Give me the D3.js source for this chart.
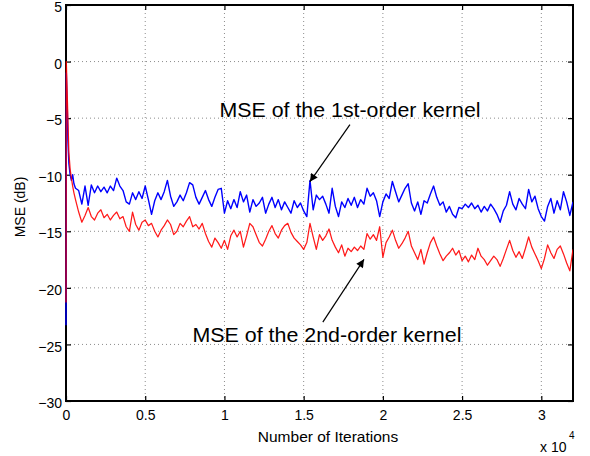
<!DOCTYPE html>
<html>
<head>
<meta charset="utf-8">
<script src="https://cdn.jsdelivr.net/npm/d3@7"></script>
<style>
body { margin: 0; background: #fff; }
text { font-family: 'Liberation Sans', Arial, sans-serif; fill: #000; }
</style>
</head>
<body>
<div class="mse-plot"></div>
<script>
// first few iterations (adaptation transient), explicit iteration numbers
const earlyIters = [0, 20, 40, 80, 120, 180, 260, 340, 420, 500];
const earlyBlue = [-23.3, -1.0, -2.0, -4.0, -7.0, -9.0, -10.0, -10.5, -10.0, -10.8];
const earlyRed = [-21.3, 0.0, -1.0, -3.0, -5.0, -8.0, -9.5, -10.3, -11.0, -11.6];

// after that one value every 200 iterations, starting at 600
const iterStart = 600;
const iterStep = 200;

// MSE of the 1st-order kernel (dB)
const blueMse = [
  -11.2, -11.4, -12.6, -11.0, -12.7, -10.9, -11.6, -11.0, -11.5, -11.1,
  -11.6, -11.0, -11.4, -10.3, -11.0, -11.4, -12.4, -12.6, -11.6, -12.2,
  -11.5, -12.1, -11.0, -12.2, -13.5, -12.3, -11.6, -12.2, -11.5, -10.5,
  -11.9, -12.8, -12.4, -11.8, -12.3, -11.6, -10.7, -10.9, -12.0, -12.6,
  -12.0, -11.4, -12.2, -12.8, -12.0, -11.3, -11.2, -13.4, -12.3, -13.0,
  -12.2, -12.9, -11.5, -12.4, -11.8, -13.3, -12.2, -12.8, -12.5, -12.0,
  -13.4, -12.6, -12.0, -12.9, -12.2, -13.1, -12.4, -12.9, -13.4, -12.3,
  -12.9, -12.5, -13.2, -13.7, -10.5, -13.1, -11.8, -12.2, -11.9, -12.6,
  -13.4, -11.2, -12.8, -13.7, -12.4, -12.9, -12.1, -12.7, -12.0, -12.9,
  -12.2, -12.6, -11.2, -11.9, -11.6, -12.3, -13.7, -12.4, -11.7, -12.1,
  -10.6, -11.5, -12.4, -11.8, -11.2, -10.8, -12.5, -13.2, -12.4, -13.5,
  -12.3, -12.5, -11.7, -11.0, -12.0, -12.7, -12.4, -13.3, -12.8, -13.5,
  -13.8, -12.9, -13.0, -12.6, -12.9, -12.5, -13.0, -12.7, -13.3, -12.8,
  -13.2, -12.6, -13.0, -13.5, -14.2, -13.2, -12.7, -11.5, -12.6, -13.1,
  -12.1, -12.6, -13.0, -11.3, -12.4, -11.9, -13.0, -13.7, -14.1, -12.8,
  -12.1, -13.4, -12.3, -13.1, -11.5, -12.4, -13.6, -12.4
];

// MSE of the 2nd-order kernel (dB)
const redMse = [
  -12.2, -13.3, -14.2, -13.6, -12.9, -13.7, -14.0, -13.4, -13.1, -13.8,
  -13.5, -14.0, -13.6, -13.3, -13.9, -13.7, -14.6, -15.0, -13.3, -14.4,
  -14.9, -14.2, -14.0, -14.5, -14.3, -15.0, -15.5, -14.9, -14.5, -14.0,
  -14.4, -15.3, -15.0, -14.3, -14.6, -14.1, -13.7, -14.6, -14.4, -14.8,
  -14.3, -15.2, -15.9, -16.4, -15.6, -16.0, -16.5, -15.8, -16.6, -15.4,
  -14.9, -15.5, -15.0, -16.4, -15.4, -14.3, -14.6, -15.3, -16.0, -16.3,
  -15.7, -15.0, -14.5, -15.2, -15.6, -14.9, -14.5, -14.3, -15.1, -15.6,
  -15.9, -16.2, -16.6, -16.0, -14.3, -15.5, -16.6, -15.3, -15.8, -15.4,
  -14.8, -15.8, -16.4, -16.9, -16.2, -17.2, -16.5, -16.8, -16.4, -16.7,
  -16.3, -16.6, -15.2, -15.7, -15.3, -15.8, -14.6, -17.3, -16.0, -15.5,
  -14.9, -15.8, -16.5, -16.1, -15.6, -15.0, -16.3, -16.9, -17.5, -16.6,
  -17.9, -16.9, -16.0, -15.5, -16.3, -17.0, -17.6, -17.2, -16.9, -16.5,
  -17.1, -16.7, -17.6, -17.2, -17.7, -17.1, -17.5, -16.5, -17.2, -17.5,
  -18.0, -17.6, -17.2, -17.5, -18.1, -17.4, -16.6, -15.8, -16.7, -17.3,
  -16.8, -17.4, -16.5, -15.5, -16.4, -17.0, -17.6, -18.3, -17.4, -16.2,
  -16.9, -17.4, -16.6, -16.3, -17.0, -17.8, -18.5, -16.6
];

const xTicks = [0, 5000, 10000, 15000, 20000, 25000, 30000];
const xTickLabels = ['0', '0.5', '1', '1.5', '2', '2.5', '3'];
const yTicks = [5, 0, -5, -10, -15, -20, -25, -30];

// annotations in data units: [iteration, dB]
const notes = [
  {text: 'MSE of the 1st-order kernel', at: [9690, -4.94], from: [17920, -5.58], to: [15390, -10.63], len: 261},
  {text: 'MSE of the 2nd-order kernel', at: [7980, -24.78], from: [16210, -23.03], to: [18810, -17.48], len: 269}
];

const width = 590;
const height = 456;
const plotL = 66, plotR = 573, plotT = 5, plotB = 401;

const x = d3.scaleLinear().domain([0, 32000]).range([plotL, plotR]);
const y = d3.scaleLinear().domain([-30, 5]).range([plotB, plotT]);

function series(vals, early) {
  const pts = earlyIters.map((it, i) => [it, early[i]]);
  vals.forEach((v, i) => pts.push([iterStart + i * iterStep, v]));
  return pts;
}

const svg = d3.select('.mse-plot').append('svg').attr('width', width).attr('height', height);

const defs = svg.append('defs');
defs.append('marker')
  .attr('id', 'head')
  .attr('viewBox', '0 0 10 10')
  .attr('refX', 10).attr('refY', 5)
  .attr('markerWidth', 11).attr('markerHeight', 8)
  .attr('markerUnits', 'userSpaceOnUse')
  .attr('orient', 'auto')
  .append('path').attr('d', 'M0,0 L10,5 L0,10 z').attr('fill', '#000');

defs.append('clipPath').attr('id', 'plot-clip')
  .append('rect').attr('x', plotL - 1).attr('y', plotT).attr('width', plotR - plotL + 1).attr('height', plotB - plotT);

// dotted grid
svg.selectAll('line.gx')
  .data(xTicks.filter(d => d > 0))
  .enter().append('line')
  .attr('x1', d => x(d)).attr('x2', d => x(d))
  .attr('y1', plotT).attr('y2', plotB)
  .attr('stroke', '#8c8c8c').attr('stroke-width', 1)
  .attr('stroke-dasharray', '1,3');
svg.selectAll('line.gy')
  .data(yTicks.filter(d => d < 5 && d > -30))
  .enter().append('line')
  .attr('x1', plotL).attr('x2', plotR)
  .attr('y1', d => y(d)).attr('y2', d => y(d))
  .attr('stroke', '#8c8c8c').attr('stroke-width', 1)
  .attr('stroke-dasharray', '1,3');

// axes, ticks inward on all four sides
const axB = svg.append('g').attr('transform', `translate(0,${plotB})`)
  .call(d3.axisBottom(x).tickValues(xTicks).tickFormat((d, i) => xTickLabels[i]).tickSizeInner(-5).tickSizeOuter(0).tickPadding(9));
const axL = svg.append('g').attr('transform', `translate(${plotL},0)`)
  .call(d3.axisLeft(y).tickValues(yTicks).tickFormat(d3.format('d')).tickSizeInner(-5).tickSizeOuter(0).tickPadding(4));
const axT = svg.append('g').attr('transform', `translate(0,${plotT})`)
  .call(d3.axisTop(x).tickValues(xTicks).tickFormat('').tickSizeInner(-5).tickSizeOuter(0));
const axR = svg.append('g').attr('transform', `translate(${plotR},0)`)
  .call(d3.axisRight(y).tickValues(yTicks).tickFormat('').tickSizeInner(-5).tickSizeOuter(0));
[axB, axL, axT, axR].forEach(g => {
  g.select('.domain').remove();
  g.selectAll('line').attr('stroke', '#000').attr('stroke-width', 1.2);
  g.selectAll('text').attr('font-size', 14).attr('font-family', "'Liberation Sans', Arial, sans-serif").attr('fill', '#000');
});
axL.selectAll('text').attr('dy', '0.47em');

svg.append('rect')
  .attr('x', plotL).attr('y', plotT)
  .attr('width', plotR - plotL).attr('height', plotB - plotT)
  .attr('fill', 'none').attr('stroke', '#000').attr('stroke-width', 2);

const line = d3.line().x(d => x(d[0])).y(d => y(d[1]));

svg.append('path')
  .datum(series(blueMse, earlyBlue))
  .attr('d', line)
  .attr('clip-path', 'url(#plot-clip)')
  .attr('fill', 'none').attr('stroke', '#0000ff').attr('stroke-width', 1.4)
  .attr('stroke-linejoin', 'round');
svg.append('path')
  .datum(series(redMse, earlyRed))
  .attr('d', line)
  .attr('clip-path', 'url(#plot-clip)')
  .attr('fill', 'none').attr('stroke', '#ff0000').attr('stroke-width', 1.25)
  .attr('stroke-linejoin', 'round').attr('stroke-opacity', 0.9);

// annotations
svg.selectAll('text.note')
  .data(notes)
  .enter().append('text')
  .attr('x', d => x(d.at[0])).attr('y', d => y(d.at[1]))
  .attr('font-size', 21)
  .attr('textLength', d => d.len).attr('lengthAdjust', 'spacingAndGlyphs')
  .text(d => d.text);
svg.selectAll('line.arrow')
  .data(notes)
  .enter().append('line')
  .attr('x1', d => x(d.from[0])).attr('y1', d => y(d.from[1]))
  .attr('x2', d => x(d.to[0])).attr('y2', d => y(d.to[1]))
  .attr('stroke', '#000').attr('stroke-width', 1.2)
  .attr('marker-end', 'url(#head)');

// axis labels
svg.append('text')
  .attr('x', 328).attr('y', 442)
  .attr('text-anchor', 'middle').attr('font-size', 15.5)
  .text('Number of Iterations');
svg.append('text')
  .attr('transform', `translate(25,207) rotate(-90)`)
  .attr('text-anchor', 'middle').attr('font-size', 14)
  .text('MSE (dB)');
svg.append('text')
  .attr('x', 540).attr('y', 452)
  .attr('font-size', 14)
  .text('x 10');
svg.append('text')
  .attr('x', 569).attr('y', 439)
  .attr('font-size', 10)
  .text('4');
</script>
</body>
</html>
